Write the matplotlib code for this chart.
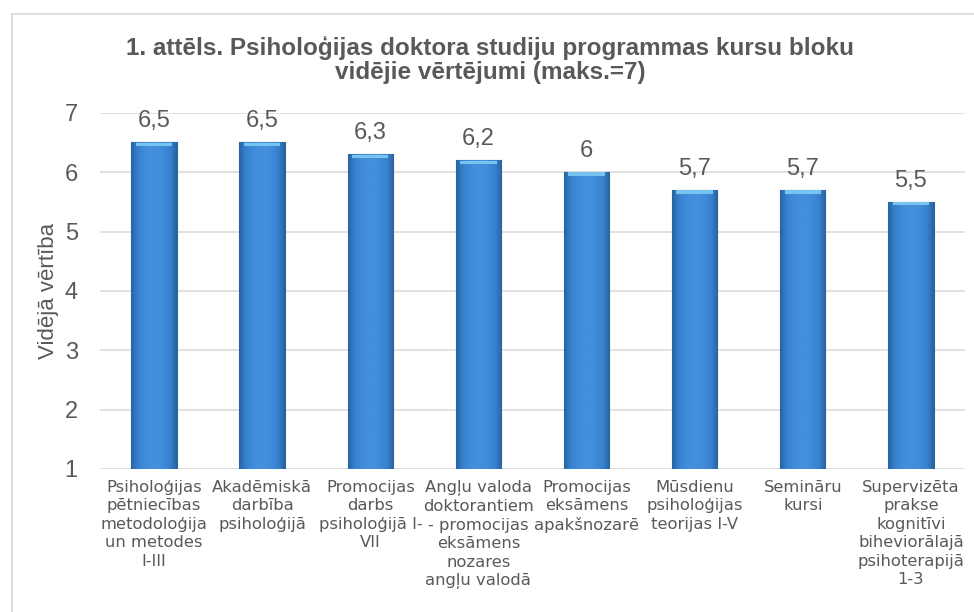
#!/usr/bin/env python3
"""Bar chart: average ratings of doctoral programme course blocks."""

import numpy as np
import matplotlib
matplotlib.use('Agg')
import matplotlib.pyplot as plt
from matplotlib.patches import Rectangle

plt.rcParams['font.family'] = ['Liberation Sans', 'DejaVu Sans']

categories = [
    'Psiholoģijas\npētniecības\nmetodoloģija\nun metodes\nI-III',
    'Akadēmiskā\ndarbība\npsiholoģijā',
    'Promocijas\ndarbs\npsiholoģijā I-\nVII',
    'Angļu valoda\ndoktorantiem\n- promocijas\neksāmens\nnozares\nangļu valodā',
    'Promocijas\neksāmens\napakšnozarē',
    'Mūsdienu\npsiholoģijas\nteorijas I-V',
    'Semināru\nkursi',
    'Supervizēta\nprakse\nkognitīvi\nbiheviorālajā\npsihoterapijā\n1-3',
]
values = [6.5, 6.5, 6.3, 6.2, 6.0, 5.7, 5.7, 5.5]
value_labels = ['6,5', '6,5', '6,3', '6,2', '6', '5,7', '5,7', '5,5']
y_ticks = [1, 2, 3, 4, 5, 6, 7]

TEXT = '#595959'

fig = plt.figure(figsize=(9.74, 6.12), dpi=100)
ax = fig.add_axes([0.1027, 0.2337, 0.888, 0.582])

# outer chart border
fig.patches.append(Rectangle((12 / 974, -0.01), 1.0, 1 - 14 / 612 + 0.01,
                             transform=fig.transFigure, fill=False,
                             edgecolor='#d9d9d9', linewidth=1.2))

x = np.arange(len(values))
bars = ax.bar(x, [v - 1 for v in values], bottom=1, width=0.42,
              color='#3680cc', edgecolor='#2a64a0', linewidth=0.8, zorder=3)

# horizontal gradient inside each bar, light bevel on top
grad = np.linspace(0, 1, 64)
grad = 1 - (2 * grad - 1) ** 2
cmap = matplotlib.colors.LinearSegmentedColormap.from_list(
    'bar', ['#2a62a0', '#3782cf', '#4490dc'])
for b in bars:
    x0, w, h = b.get_x(), b.get_width(), b.get_height()
    im = ax.imshow(grad[np.newaxis, :], cmap=cmap, aspect='auto',
                   extent=(x0, x0 + w, 1, 1 + h), zorder=4)
    im.set_clip_path(b)
    ax.add_patch(Rectangle((x0 + w * 0.1, 1 + h - 0.06), w * 0.8, 0.055,
                           facecolor='#79c3f0', edgecolor='none', zorder=5))

for xi, v, lab in zip(x, values, value_labels):
    ax.text(xi, v + 0.17, lab, ha='center', va='bottom', fontsize=17, color=TEXT)

ax.set_xlim(-0.5, len(values) - 0.5)
ax.set_ylim(1, 7)
ax.set_yticks(y_ticks)
ax.set_yticklabels([str(t) for t in y_ticks], fontsize=17, color=TEXT)
ax.set_xticks(x)
ax.set_xticklabels(categories, fontsize=11.8, color=TEXT, linespacing=1.28,
                   family=['DejaVu Sans'])
ax.tick_params(axis='both', length=0)
ax.tick_params(axis='y', pad=16)
ax.tick_params(axis='x', pad=8)
ax.grid(axis='y', color='#d9d9d9', linewidth=1.1, zorder=0)
ax.set_axisbelow(True)
for s in ax.spines.values():
    s.set_visible(False)

ax.set_ylabel('Vidējā vērtība', fontsize=16, color=TEXT, labelpad=4)

fig.text(0.503, 1 - 60 / 612,
         '1. attēls. Psiholoģijas doktora studiju programmas kursu bloku\nvidējie vērtējumi (maks.=7)',
         ha='center', va='center', fontsize=17.5, fontweight='bold', color=TEXT,
         linespacing=1.0)

fig.savefig('out.png', dpi=100)
